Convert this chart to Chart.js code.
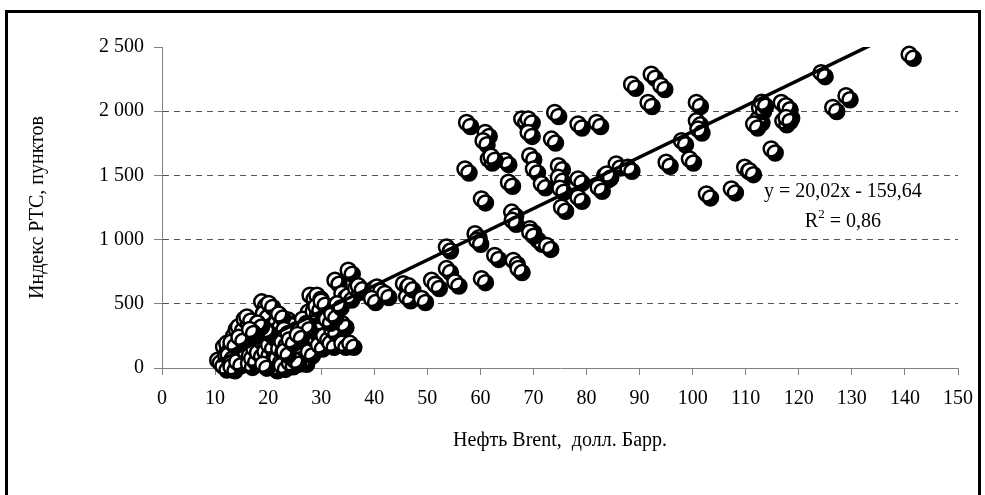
<!DOCTYPE html>
<html><head><meta charset="utf-8">
<script src="https://cdn.jsdelivr.net/npm/chart.js@4/dist/chart.umd.min.js"></script>
<style>html,body{margin:0;padding:0;background:#fff;}#wrap{width:985px;height:495px;}</style>
</head><body><div id="wrap"><canvas id="c" width="985" height="495"></canvas></div>
<script>
// Brent oil price (USD/barrel) vs RTS index (points)
const brent = [10.5,11.0,11.5,12.0,11.6,12.2,12.5,13.0,13.5,14.0,14.4,14.1,15.0,15.5,16.0,15.7,16.3,16.9,17.3,17.5,18.0,18.8,18.8,19.1,19.4,20.1,20.1,20.5,20.7,21.0,21.3,21.6,22.0,22.6,23.2,23.8,24.5,24.5,25.0,25.7,25.7,26.0,26.5,27.0,27.6,27.6,27.9,28.0,28.5,29.2,29.5,29.5,30.0,30.5,31.4,31.7,32.0,32.6,33.9,33.9,33.9,35.1,35.4,35.0,36.5,37.0,19.0,22.5,24.0,25.0,23.0,
  21.5,22.0,23.0,24.0,26.5,28.5,29.0,30.0,31.0,32.0,33.0,27.0,25.5,19.5,18.0,17.0,13.0,14.5,16.5,
  40.0,40.5,39.5,42.0,45.5,46.1,46.5,48.9,50.8,51.5,53.6,53.6,55.2,
  57.4,60.9,60.5,61.5,64.6,57.1,65.3,60.2,65.9,59.0,59.3,69.3,67.8,69.0,69.0,74.0,73.4,78.4,81.9,69.3,70.0,74.7,74.7,71.5,78.4,78.4,75.3,83.4,82.2,85.6,87.8,
  88.5,92.2,94.0,91.6,100.7,100.7,101.0,97.9,95.0,99.4,83.8,112.3,112.6,116.7,117.9,117.0,114.8,109.8,110.7,107.3,102.6,140.8,124.2,128.9,126.4,117.6,117.6,
  60.2,62.7,66.2,67.1,70.9,72.5,69.3,66.0,111.5,113.0,75.0,62.0];
const rts = [60,40,15,100,165,192,101,10,250,300,321,49,150,380,398,127,36,75,153,230,120,204,515,424,127,502,179,260,49,10,282,75,150,204,101,373,256,330,170,204,101,300,60,192,437,127,567,250,300,567,360,179,420,250,463,192,300,683,580,347,192,761,192,560,620,640,30,20,40,60,130,
  350,420,300,220,380,440,480,520,380,420,500,330,260,300,350,280,200,240,300,
  620,631,541,580,657,554,640,541,683,650,774,942,670,
  1912,1835,1770,1628,1615,1550,1447,1317,1214,1046,995,1085,1939,1939,1835,1990,1783,1900,1912,1654,1550,1576,1485,1434,1472,1330,1252,1498,1408,1589,1563,
  2210,2288,2200,2068,2068,1925,1861,1770,1602,1628,1511,1939,2029,2068,1977,1925,1706,1563,1537,1395,1356,2443,2300,2120,2029,2042,1951,
  696,877,838,774,994,955,1058,1150,1900,2070,1400,1650];
const xTicks = [0,10,20,30,40,50,60,70,80,90,100,110,120,130,140,150];
const yTicks = [0,500,1000,1500,2000,2500];
const trendSlope = 20.02, trendIntercept = -159.64;
const trendText = 'y = 20,02x - 159,64';
const r2Value = '0,86';
const xTitle = 'Нефть Brent,  долл. Барр.';
const yTitle = 'Индекс РТС, пунктов';

const FONT = "'Liberation Serif','Times New Roman',serif";
const points = brent.map((x,i)=>({x:x, y:rts[i]}));
const xMin = Math.min(...brent), xMax = Math.max(...brent);
const trend = [xMin, xMax].map(x=>({x:x, y:trendSlope*x+trendIntercept}));

const fmt = v => String(v).replace(/\B(?=(\d{3})+(?!\d))/g,' ');

const framePlugin = {
  id:'frame',
  beforeDraw(chart){
    const c = chart.ctx; c.save();
    c.fillStyle='#fff'; c.fillRect(0,0,chart.width,chart.height);
    c.strokeStyle='#000'; c.lineWidth=3;
    c.strokeRect(6.5,11.5,973,500);
    c.restore();
  },
  beforeDatasetDraw(chart,args){
    if(args.index===1){const c=chart.ctx;c.save();c.shadowColor='#000';c.shadowOffsetX=4;c.shadowOffsetY=4;c.shadowBlur=0;}
  },
  afterDatasetDraw(chart,args){
    if(args.index===1){chart.ctx.restore();}
  },
  afterDraw(chart){
    const c = chart.ctx, xs = chart.scales.x, ys = chart.scales.y;
    c.save();
    c.fillStyle='#000'; c.textBaseline='middle';
    c.font = '20px '+FONT; c.textAlign='center';
    const cx = xs.getPixelForValue(128.3);
    c.fillText(trendText, cx, ys.getPixelForValue(1371));
    const y2 = ys.getPixelForValue(1137);
    const a='R', b='2', d=' = '+r2Value;
    c.font='20px '+FONT; const wa=c.measureText(a).width, wd=c.measureText(d).width;
    c.font='13px '+FONT; const wb=c.measureText(b).width;
    let x0 = cx-(wa+wb+wd)/2;
    c.textAlign='left';
    c.font='20px '+FONT; c.fillText(a,x0,y2);
    c.font='13px '+FONT; c.fillText(b,x0+wa,y2-7);
    c.font='20px '+FONT; c.fillText(d,x0+wa+wb,y2);
    c.restore();
  }
};

new Chart(document.getElementById('c'),{
  type:'scatter',
  data:{datasets:[
    {type:'line', data:trend, borderColor:'#000', borderWidth:3.5, pointRadius:0, showLine:true, fill:false, clip:0, order:1},
    {type:'scatter', data:points, backgroundColor:'#fff', borderColor:'#000', borderWidth:2.5, pointRadius:7.5, clip:false, order:2}
  ]},
  options:{
    responsive:false, animation:false, devicePixelRatio:1,
    layout:{padding:{left:0,right:27,top:47,bottom:0}},
    plugins:{legend:{display:false},tooltip:{enabled:false}},
    scales:{
      x:{type:'linear', min:0, max:150,
        afterBuildTicks(s){s.ticks = xTicks.map(v=>({value:v}));},
        afterFit(s){s.height=127;},
        grid:{drawOnChartArea:false, drawTicks:true, tickLength:7, tickColor:'#808080'},
        border:{color:'#808080', width:1},
        ticks:{color:'#000', font:{family:FONT,size:20}, padding:12, maxRotation:0, autoSkip:false},
        title:{display:true, text:xTitle, color:'#000', font:{family:FONT,size:20}, padding:{top:0,bottom:42}}
      },
      y:{type:'linear', min:0, max:2500,
        afterBuildTicks(s){s.ticks = yTicks.map(v=>({value:v}));},
        afterFit(s){s.width=162;},
        grid:{drawTicks:true, tickLength:8, tickColor:'#808080', lineWidth:1,
          color:(ctx)=> (ctx.tick && (ctx.tick.value===0 || ctx.tick.value===2500)) ? 'rgba(0,0,0,0)' : '#555'},
        border:{color:'#808080', width:1, dash:[6,5]},
        ticks:{color:'#000', font:{family:FONT,size:20}, padding:10, autoSkip:false, callback:(v)=>fmt(v)},
        title:{display:true, text:yTitle, color:'#000', font:{family:FONT,size:20}, padding:{top:26,bottom:0}}
      }
    }
  },
  plugins:[framePlugin]
});
</script></body></html>
